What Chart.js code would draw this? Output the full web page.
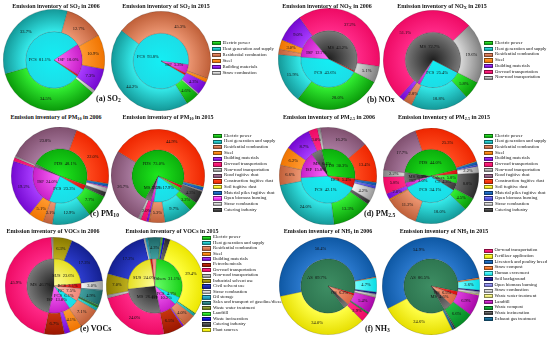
<!DOCTYPE html>
<html>
<head>
<meta charset="utf-8">
<script src="https://cdn.jsdelivr.net/npm/chart.js@4.4.1/dist/chart.umd.min.js"></script>
<style>
  body { margin: 0; background: #fff; }
  #page { position: relative; width: 550px; height: 343px; overflow: hidden; font-family: "Liberation Serif", "Times New Roman", serif; color: #111; }
  .pie { position: absolute; }
  .title { position: absolute; font-weight: bold; font-size: 6px; line-height: 1; white-space: nowrap; transform: translate(-50%, -50%); }
  .tag { position: absolute; font-weight: bold; font-size: 8px; line-height: 1; white-space: nowrap; transform: translateY(-50%); }
  sub { font-size: 70%; vertical-align: -0.25em; line-height: 0; }
  .legend { position: absolute; font-size: 4.7px; line-height: 1; }
  .legend .sw { position: absolute; left: 0; width: 9px; height: 4.2px; box-sizing: border-box; border: 0.4px solid rgba(0,0,0,0.45); }
  .legend .tx { position: absolute; left: 11px; white-space: nowrap; }
</style>
</head>
<body>
<div id="page"></div>
<script>
// ---- data (shares in %) ----
const so2Sources = ['Electric power', 'Heat generation and supply', 'Residential combustion', 'Steel', 'Building materials', 'Straw combustion'];
const so2Shares2006 = [34.5, 33.7, 12.7, 10.9, 7.3, 0.9];
const so2Shares2015 = [4.6, 44.2, 45.3, 1.3, 4.3, 0.3];
const so2Groups = ['FCS', 'ISP', 'BCS'];
const so2Group2006 = [81.1, 18.0, 0.9];
const so2Group2015 = [93.8, 5.3, 0.9];

const noxSources = ['Electric power', 'Heat generation and supply', 'Residential combustion', 'Steel', 'Building materials', 'On-road transportation', 'Non-road transportation'];
const noxShares2006 = [28.0, 15.9, 1.7, 3.0, 9.0, 37.2, 5.1];
const noxShares2015 = [5.8, 18.8, 2.8, 0.1, 1.8, 51.1, 19.6];
const noxGroups = ['FCS', 'ISP', 'MS', 'BCS'];
const noxGroup2006 = [43.6, 12.7, 43.2, 0.5];
const noxGroup2015 = [25.4, 1.8, 72.7, 0.1];

const pmSources = ['Electric power', 'Heat generation and supply', 'Residential combustion', 'Steel', 'Building materials', 'On-road transportation', 'Non-road transportation', 'Road fugitive dust', 'Construction fugitive dust', 'Soil fugitive dust', 'Material piles fugitive dust', 'Open biomass burning', 'Straw combustion', 'Catering industry'];
const pm10Shares2006 = [7.7, 12.9, 3.1, 5.1, 19.2, 1.2, 0.6, 23.8, 22.0, 0.1, 1.0, 0.3, 1.5, 1.5];
const pm10Shares2015 = [3.2, 9.7, 5.3, 0.3, 0.8, 2.0, 1.0, 26.7, 44.9, 0.2, 1.2, 0.1, 0.3, 4.3];
const pm25Shares2006 = [13.3, 24.0, 6.6, 6.2, 8.7, 3.0, 1.0, 16.2, 13.4, 0.1, 1.0, 1.0, 4.2, 1.3];
const pm25Shares2015 = [4.5, 18.0, 11.2, 0.5, 2.0, 5.8, 2.2, 17.7, 25.3, 0.2, 1.0, 0.6, 2.2, 8.8];
const pmGroups = ['FCS', 'ISP', 'MS', 'FDS', 'BCS', 'Others', 'CI'];
const pm10Group2006 = [23.3, 24.0, 1.7, 48.1, 2.9, 0, 0];
const pm10Group2015 = [17.9, 2.0, 3.5, 73.0, 1.6, 2.0, 0];
const pm25Group2006 = [42.1, 15.8, 6.4, 30.3, 5.4, 0, 0];
const pm25Group2015 = [34.1, 3.0, 6.3, 44.0, 2.5, 5.8, 4.3];

const vocSources = ['Electric power', 'Heat generation and supply', 'Residential combustion', 'Steel', 'Building materials', 'Petrochemicals', 'On-road transportation', 'Non-road transportation', 'Industrial solvent use', 'Civil solvent use', 'Straw combustion', 'Oil storage', 'Sales and transport of gasoline/diesel', 'Waste water treatment', 'Landfill', 'Waste incineration', 'Catering industry', 'Plant sources'];
const vocShares2006 = [0.5, 1.0, 7.1, 4.1, 1.9, 6.7, 45.9, 0.6, 6.3, 17.3, 3.0, 0.2, 4.9, 0.0, 0.3, 0.1, 0.1, 0.0];
const vocShares2015 = [0.3, 0.8, 4.0, 0.4, 0.6, 6.5, 24.0, 1.0, 7.0, 17.2, 0.6, 0.8, 4.3, 0.3, 0.4, 0.7, 1.7, 29.4];
const vocGroups = ['FCS', 'ISP', 'MS', 'SUS', 'BCS', 'RC', 'Others'];
const vocGroup2006 = [6.1, 13.0, 46.7, 23.6, 3.1, 7.5, 0];
const vocGroup2015 = [4.7, 10.2, 26.4, 24.0, 1.2, 2.4, 31.1];

const nh3Sources = ['On-road transportation', 'Fertilizer application', 'Livestock and poultry breed', 'Straw compost', 'Human excrement', 'Soil background', 'Open biomass burning', 'Straw combustion', 'Waste water treatment', 'Landfill', 'Waste compost', 'Waste incineration', 'Exhaust gas treatment'];
const nh3Shares2006 = [2.9, 34.0, 50.4, 0.3, 4.7, 0.6, 0.2, 0.8, 0.2, 5.4, 0.4, 0.1, 0.0];
const nh3Shares2015 = [0.0, 24.6, 54.9, 0.5, 3.6, 0.4, 0.2, 0.8, 0.3, 6.9, 6.6, 0.5, 0.7];
const nh3Groups = ['AS', 'BCS', 'OS', 'MS'];
const nh3Group2006 = [89.7, 1.3, 6.2, 2.8];
const nh3Group2015 = [86.5, 2.4, 6.5, 4.6];

// ---- colours: [inner edge, outer edge] ----
const shades = {
  'Electric power': ['#33f033', '#0a9a0a'],
  'Heat generation and supply': ['#34eaea', '#149898'],
  'Residential combustion': ['#ec9672', '#bf5f38'],
  'Steel': ['#ff9a30', '#f07400'],
  'Building materials': ['#a83cff', '#7408d0'],
  'Straw combustion': ['#f6f6f6', '#9a9a9a'],
  'On-road transportation': ['#ff2a88', '#ee0a64'],
  'Non-road transportation': ['#d8d8d8', '#808080'],
  'Road fugitive dust': ['#a87a9e', '#80506f'],
  'Construction fugitive dust': ['#ff4a1e', '#ee2600'],
  'Soil fugitive dust': ['#ffff70', '#eadc00'],
  'Material piles fugitive dust': ['#2a78d6', '#0e56a8'],
  'Open biomass burning': ['#ff70ff', '#e010e0'],
  'Catering industry': ['#6a6a6a', '#2a2a2a'],
  'Petrochemicals': ['#c8340e', '#9a1600'],
  'Industrial solvent use': ['#bcae1c', '#8a7a00'],
  'Civil solvent use': ['#2c3cce', '#142090'],
  'Oil storage': ['#40bede', '#1486a4'],
  'Sales and transport of gasoline/diesel': ['#40a0a0', '#1c6464'],
  'Waste water treatment': ['#a4b444', '#667414'],
  'Landfill': ['#44f844', '#14c414'],
  'Waste incineration': ['#2424f4', '#0606b0'],
  'Plant sources': ['#ffff40', '#ece600']
};
const pm25Shades = Object.assign({}, shades, { 'Open biomass burning': ['#8080ff', '#3a3ac8'] });
const nh3Shades = Object.assign({}, shades, {
  'Fertilizer application': ['#ffff48', '#e6de00'],
  'Livestock and poultry breed': ['#2a78cc', '#0e58a4'],
  'Straw compost': ['#ff9450', '#e86614'],
  'Human excrement': ['#70ffff', '#08dce4'],
  'Soil background': ['#2e2eae', '#0c0c78'],
  'Open biomass burning': ['#b0b0ff', '#6a6ad4'],
  'Waste water treatment': ['#ffffa0', '#dcdc64'],
  'Landfill': ['#e040e0', '#a808a8'],
  'Waste compost': ['#22bc44', '#068a26'],
  'Waste incineration': ['#828282', '#2a2a2a'],
  'Exhaust gas treatment': ['#2684b4', '#0c5076']
});
// inner pies: [centre, edge]
const groupShades = {
  FCS: ['#14eef4', '#1cdde6'],
  ISP: ['#ff70ff', '#c81ec8'],
  BCS: ['#ff4a3a', '#d81010'],
  MS: ['#1e1e1e', '#7a7a7a'],
  FDS: ['#1ee81e', '#0cae0c'],
  SUS: ['#ffffa0', '#e6df20'],
  Others: ['#6aff6a', '#18d018'],
  AS: ['#3e8e64', '#2e7650'],
  OS: ['#f8a888', '#dc6644'],
  CI: ['#8a8a8a', '#3a3a3a'],
  RC: ['#ffbcae', '#f0887a']
};

const panels = [
  { tag: '(a) SO<sub>2</sub>', tagX: 96, tagY: 99, cats: so2Sources, groups: so2Groups, pal: shades,
    legend: { x: 211.5, y: 43.3, step: 5.95 },
    pies: [
      { outer: so2Shares2006, inner: so2Group2006, cx: 54, cy: 60, r: 51, rotOut: 130, rotIn: 125, title: 'Emission inventory of SO<sub>2</sub> in 2006', tx: 56, ty: 6 },
      { outer: so2Shares2015, inner: so2Group2015, cx: 161, cy: 61, r: 50, rotOut: 132, rotIn: 120, title: 'Emission inventory of SO<sub>2</sub> in 2015', tx: 166, ty: 6 }
    ] },
  { tag: '(b) NOx', tagX: 367, tagY: 99.5, cats: noxSources, groups: noxGroups, pal: shades,
    legend: { x: 484, y: 43.3, step: 5.73 },
    pies: [
      { outer: noxShares2006, inner: noxGroup2006, cx: 329, cy: 59, r: 51, rotOut: 117, rotIn: 117, title: 'Emission inventory of NO<sub>X</sub> in 2006', tx: 327, ty: 6 },
      { outer: noxShares2015, inner: noxGroup2015, cx: 433, cy: 60, r: 50, rotOut: 117, rotIn: 117, title: 'Emission inventory of NO<sub>X</sub> in 2015', tx: 442, ty: 6 }
    ] },
  { tag: '(c) PM<sub>10</sub>', tagX: 90, tagY: 213.5, cats: pmSources, groups: pmGroups, pal: shades,
    legend: { x: 213, y: 136, step: 5.69 },
    pies: [
      { outer: pm10Shares2006, inner: pm10Group2006, cx: 60, cy: 176, r: 49, rotOut: 115, rotIn: 120, title: 'Emission inventory of PM<sub>10</sub> in 2006', tx: 56, ty: 117 },
      { outer: pm10Shares2015, inner: pm10Group2015, cx: 158, cy: 176, r: 47, rotOut: 125, rotIn: 125, title: 'Emission inventory of PM<sub>10</sub> in 2015', tx: 168, ty: 117 }
    ] },
  { tag: '(d) PM<sub>2.5</sub>', tagX: 364, tagY: 213.5, cats: pmSources, groups: pmGroups, pal: pm25Shades,
    legend: { x: 484, y: 136, step: 5.69 },
    pies: [
      { outer: pm25Shares2006, inner: pm25Group2006, cx: 328, cy: 176, r: 49, rotOut: 125, rotIn: 115, title: 'Emission inventory of PM<sub>2.5</sub> in 2006', tx: 329, ty: 117 },
      { outer: pm25Shares2015, inner: pm25Group2015, cx: 431, cy: 176, r: 48, rotOut: 118, rotIn: 122, title: 'Emission inventory of PM<sub>2.5</sub> in 2015', tx: 444, ty: 117 }
    ] },
  { tag: '(e) VOCs', tagX: 80, tagY: 328.5, cats: vocSources, groups: vocGroups, pal: shades,
    legend: { x: 202, y: 237.7, step: 5.43 },
    pies: [
      { outer: vocShares2006, inner: vocGroup2006, cx: 54, cy: 286, r: 49, rotOut: 115, rotIn: 123, title: 'Emission inventory of VOCs in 2006', tx: 53, ty: 231 },
      { outer: vocShares2015, inner: vocGroup2015, cx: 155, cy: 286, r: 49, rotOut: 124, rotIn: 115, title: 'Emission inventory of VOCs in 2015', tx: 172, ty: 231 }
    ] },
  { tag: '(f) NH<sub>3</sub>', tagX: 365, tagY: 328.5, cats: nh3Sources, groups: nh3Groups, pal: nh3Shades,
    legend: { x: 483.5, y: 250.8, step: 5.69 },
    pies: [
      { outer: nh3Shares2006, inner: nh3Group2006, cx: 328, cy: 286, r: 49, rotOut: 125, rotIn: 143, title: 'Emission inventory of NH<sub>3</sub> in 2006', tx: 328, ty: 231 },
      { outer: nh3Shares2015, inner: nh3Group2015, cx: 431, cy: 286, r: 49, rotOut: 154, rotIn: 150, title: 'Emission inventory of NH<sub>3</sub> in 2015', tx: 444, ty: 231 }
    ] }
];

const page = document.getElementById('page');

function radialFill(pairs) {
  return function (ctx) {
    const chart = ctx.chart;
    const pair = pairs[ctx.dataIndex];
    const area = chart.chartArea;
    const ctrl = chart.getDatasetMeta(ctx.datasetIndex).controller;
    if (!area || !ctrl || !ctrl.outerRadius) return pair[1];
    const cx = (area.left + area.right) / 2;
    const cy = (area.top + area.bottom) / 2;
    const g = chart.ctx.createRadialGradient(cx, cy, ctrl.innerRadius, cx, cy, ctrl.outerRadius);
    g.addColorStop(0, pair[0]);
    g.addColorStop(1, pair[1]);
    return g;
  };
}

// percent labels drawn at each arc's centre point
const sliceLabels = {
  id: 'sliceLabels',
  afterDatasetsDraw(chart) {
    const c = chart.ctx;
    c.save();
    c.font = '4.5px "Liberation Serif"';
    c.textAlign = 'center';
    c.textBaseline = 'middle';
    c.fillStyle = '#111';
    chart.data.datasets.forEach((ds, di) => {
      const meta = chart.getDatasetMeta(di);
      const min = ds.names ? 3 : 2;
      meta.data.forEach((arc, i) => {
        const v = ds.data[i];
        if (v < min) return;
        const p = arc.getCenterPoint();
        const txt = (ds.names ? ds.names[i] + '  ' : '') + v.toFixed(1) + '%';
        c.fillText(txt, p.x, p.y);
      });
    });
    c.restore();
  }
};

function addDiv(cls, html, x, y) {
  const d = document.createElement('div');
  d.className = cls;
  d.innerHTML = html;
  d.style.left = x + 'px';
  d.style.top = y + 'px';
  page.appendChild(d);
  return d;
}

panels.forEach(panel => {
  const outerCols = panel.cats.map(n => panel.pal[n]);
  const innerCols = panel.groups.map(n => groupShades[n]);

  panel.pies.forEach(p => {
    const cv = document.createElement('canvas');
    cv.className = 'pie';
    cv.width = p.r * 2;
    cv.height = p.r * 2;
    cv.style.left = (p.cx - p.r) + 'px';
    cv.style.top = (p.cy - p.r) + 'px';
    page.appendChild(cv);

    new Chart(cv.getContext('2d'), {
      type: 'pie',
      data: {
        labels: panel.cats,
        datasets: [
          { data: p.outer, backgroundColor: radialFill(outerCols), rotation: p.rotOut, weight: 1,
            borderWidth: 0.4, borderColor: 'rgba(30,30,30,0.45)' },
          { data: p.inner, names: panel.groups, backgroundColor: radialFill(innerCols), rotation: p.rotIn, weight: 1.27,
            borderWidth: 0.4, borderColor: 'rgba(30,30,30,0.45)' }
        ]
      },
      options: {
        responsive: false,
        animation: false,
        layout: { padding: 0 },
        plugins: { legend: { display: false }, tooltip: { enabled: false } }
      },
      plugins: [sliceLabels]
    });

    addDiv('title', p.title, p.tx, p.ty);
  });

  addDiv('tag', panel.tag, panel.tagX, panel.tagY);

  const lg = addDiv('legend', '', panel.legend.x, panel.legend.y);
  panel.cats.forEach((name, i) => {
    const y = i * panel.legend.step;
    const sw = document.createElement('div');
    sw.className = 'sw';
    sw.style.top = (y - 2.1) + 'px';
    sw.style.background = 'linear-gradient(180deg,' + outerCols[i][0] + ',' + outerCols[i][1] + ')';
    lg.appendChild(sw);
    const tx = document.createElement('div');
    tx.className = 'tx';
    tx.style.top = (y - 2.4) + 'px';
    tx.textContent = name;
    lg.appendChild(tx);
  });
});
</script>
</body>
</html>
